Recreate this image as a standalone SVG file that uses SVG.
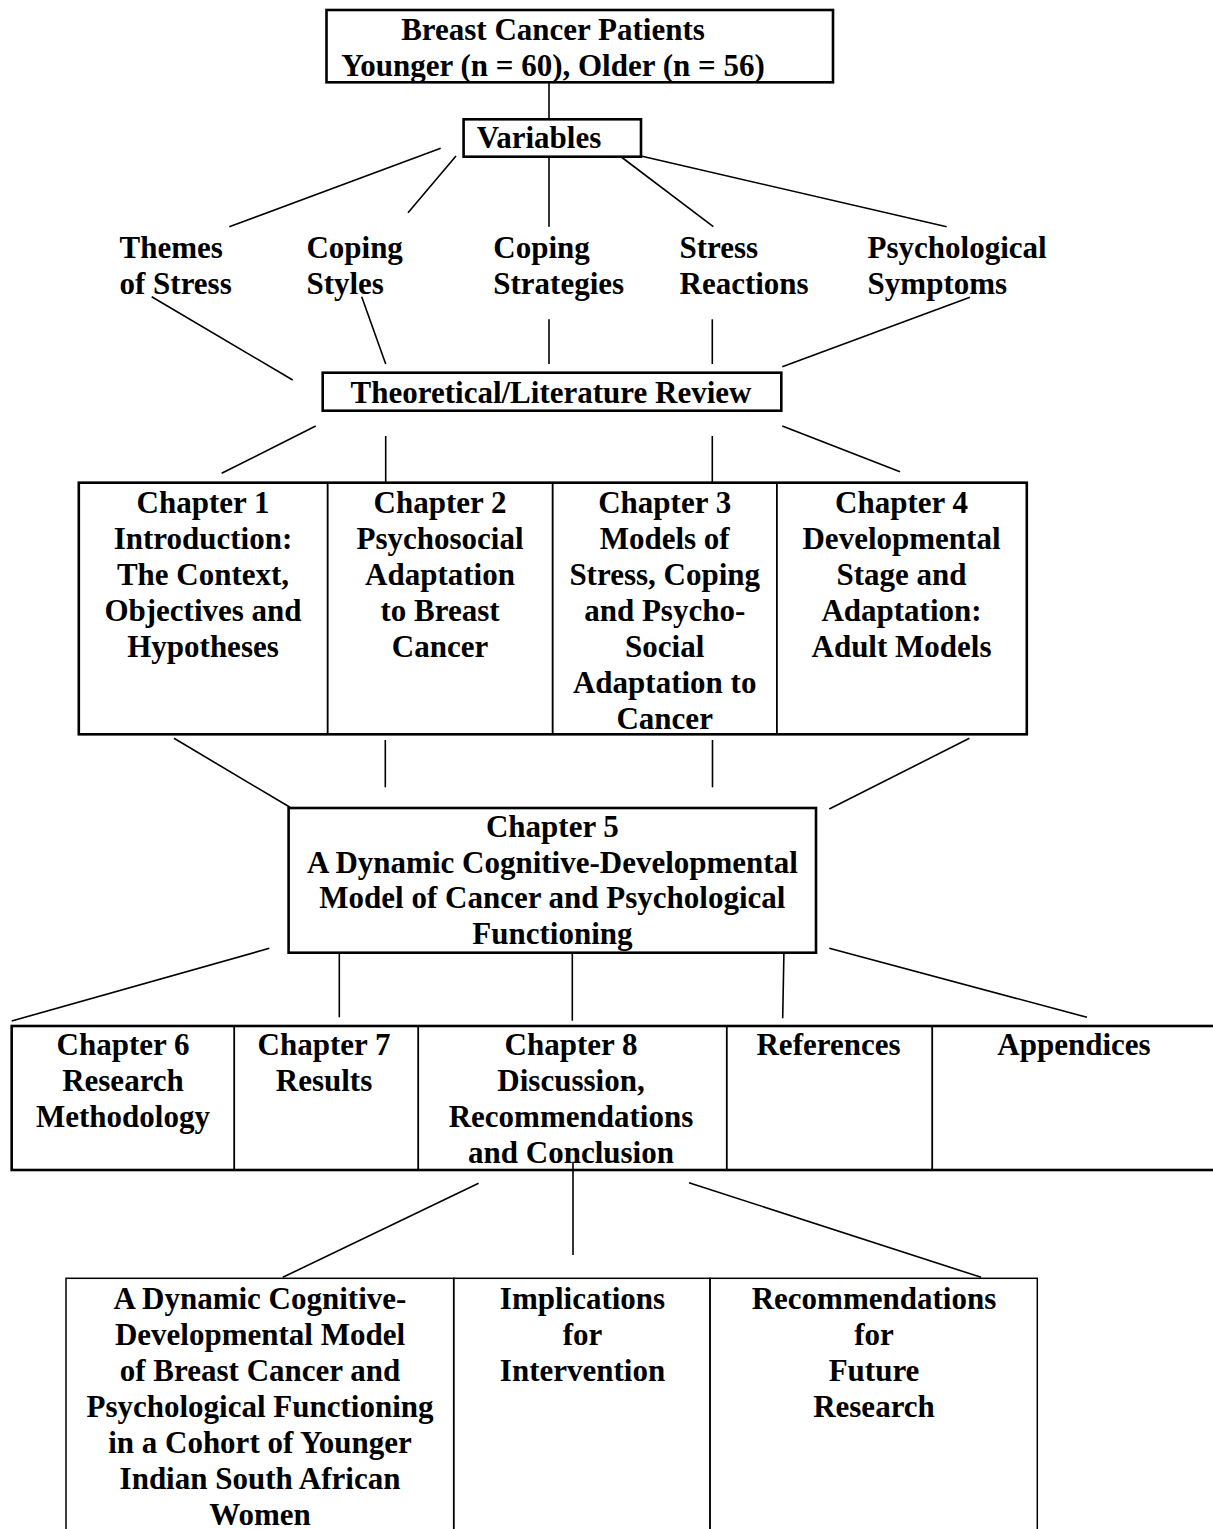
<svg xmlns="http://www.w3.org/2000/svg" width="1213" height="1529" viewBox="0 0 1213 1529">
  <style>
    text { font-family: "Liberation Serif", "Times New Roman", serif; font-weight: bold; font-size: 31px; fill: #000; }
    .c { text-anchor: middle; }
    .box { fill: #fff; stroke: #000; stroke-width: 2.6; }
    .cell { fill: none; stroke: #000; stroke-width: 1.5; }
    .frame { fill: none; stroke: #000; stroke-width: 2.6; }
    #connectors line { stroke: #000; stroke-width: 1.6; }
  </style>
  <rect width="1213" height="1529" fill="#fff"/>

  <!-- connectors -->
  <g id="connectors">
    <line x1="549" y1="82" x2="549" y2="119"/>
    <line x1="440.7" y1="148.3" x2="229.3" y2="226.7"/>
    <line x1="456" y1="156" x2="408" y2="212.7"/>
    <line x1="549" y1="156" x2="549" y2="226.7"/>
    <line x1="620" y1="156" x2="713.3" y2="226.7"/>
    <line x1="641" y1="156" x2="946.7" y2="226.7"/>
    <line x1="151.7" y1="296.7" x2="292.7" y2="380"/>
    <line x1="361.7" y1="296.7" x2="385.7" y2="364"/>
    <line x1="549" y1="319.3" x2="549" y2="364"/>
    <line x1="712.3" y1="319.3" x2="712.3" y2="364"/>
    <line x1="970" y1="297.3" x2="782.3" y2="366.7"/>
    <line x1="315.7" y1="426" x2="221.7" y2="473.3"/>
    <line x1="385.7" y1="436" x2="385.7" y2="482.7"/>
    <line x1="712.3" y1="436" x2="712.3" y2="482.7"/>
    <line x1="782.3" y1="426" x2="900" y2="471.7"/>
    <line x1="174" y1="738.3" x2="290" y2="807.3"/>
    <line x1="385.3" y1="740" x2="385.3" y2="787.3"/>
    <line x1="712.5" y1="740" x2="712.5" y2="787.3"/>
    <line x1="969.4" y1="738.3" x2="829.3" y2="809"/>
    <line x1="269.3" y1="948.3" x2="11.7" y2="1021"/>
    <line x1="339.3" y1="948.3" x2="339.3" y2="1017.3"/>
    <line x1="572.3" y1="950" x2="572.3" y2="1020.7"/>
    <line x1="784" y1="948.3" x2="782.7" y2="1018.3"/>
    <line x1="829.3" y1="948.3" x2="1087" y2="1017.3"/>
    <line x1="478.6" y1="1183.3" x2="282.8" y2="1277.3"/>
    <line x1="573" y1="1161.7" x2="573" y2="1255"/>
    <line x1="689" y1="1182.7" x2="981.1" y2="1277.3"/>
  </g>

  <!-- sample -->
  <g id="patients">
    <rect class="box" x="326.5" y="10" width="506.5" height="72.3" stroke-width="3"/>
    <text class="c" x="553" y="39.5">Breast Cancer Patients</text>
    <text class="c" x="553" y="75.5">Younger (n = 60), Older (n = 56)</text>
  </g>

  <g id="variables">
    <rect class="box" x="463.6" y="119.3" width="177.4" height="37.4" stroke-width="2"/>
    <text class="c" x="539" y="147.5">Variables</text>
  </g>

  <!-- study variables -->
  <g id="themes-of-stress">
    <text x="119.5" y="258">Themes</text>
    <text x="119.5" y="294">of Stress</text>
  </g>
  <g id="coping-styles">
    <text x="306.4" y="258">Coping</text>
    <text x="306.4" y="294">Styles</text>
  </g>
  <g id="coping-strategies">
    <text x="493.3" y="258">Coping</text>
    <text x="493.3" y="294">Strategies</text>
  </g>
  <g id="stress-reactions">
    <text x="679.5" y="258">Stress</text>
    <text x="679.5" y="294">Reactions</text>
  </g>
  <g id="psychological-symptoms">
    <text x="867.6" y="258">Psychological</text>
    <text x="867.6" y="294">Symptoms</text>
  </g>

  <g id="literature-review">
    <rect class="box" x="322.7" y="372.7" width="458.6" height="38"/>
    <text class="c" x="551" y="402.7">Theoretical/Literature Review</text>
  </g>

  <!-- chapters 1-4 -->
  <g id="chapter-1">
    <rect class="cell" x="78.8" y="482.7" width="248.8" height="251.6"/>
    <text class="c" x="203" y="512.5">Chapter 1</text>
    <text class="c" x="203" y="548.5">Introduction:</text>
    <text class="c" x="203" y="584.5">The Context,</text>
    <text class="c" x="203" y="620.5">Objectives and</text>
    <text class="c" x="203" y="656.5">Hypotheses</text>
  </g>
  <g id="chapter-2">
    <rect class="cell" x="327.6" y="482.7" width="225" height="251.6"/>
    <text class="c" x="440" y="512.5">Chapter 2</text>
    <text class="c" x="440" y="548.5">Psychosocial</text>
    <text class="c" x="440" y="584.5">Adaptation</text>
    <text class="c" x="440" y="620.5">to Breast</text>
    <text class="c" x="440" y="656.5">Cancer</text>
  </g>
  <g id="chapter-3">
    <rect class="cell" x="552.6" y="482.7" width="224.2" height="251.6"/>
    <text class="c" x="664.7" y="512.5">Chapter 3</text>
    <text class="c" x="664.7" y="548.5">Models of</text>
    <text class="c" x="664.7" y="584.5">Stress, Coping</text>
    <text class="c" x="664.7" y="620.5">and Psycho-</text>
    <text class="c" x="664.7" y="656.5">Social</text>
    <text class="c" x="664.7" y="692.5">Adaptation to</text>
    <text class="c" x="664.7" y="728.5">Cancer</text>
  </g>
  <g id="chapter-4">
    <rect class="cell" x="776.8" y="482.7" width="250" height="251.6"/>
    <text class="c" x="901.5" y="512.5">Chapter 4</text>
    <text class="c" x="901.5" y="548.5">Developmental</text>
    <text class="c" x="901.5" y="584.5">Stage and</text>
    <text class="c" x="901.5" y="620.5">Adaptation:</text>
    <text class="c" x="901.5" y="656.5">Adult Models</text>
  </g>
  <rect class="frame" x="78.8" y="482.7" width="948" height="251.6"/>

  <g id="chapter-5">
    <rect class="box" x="288.6" y="808" width="527.4" height="144.7"/>
    <text class="c" x="552.4" y="836.8">Chapter 5</text>
    <text class="c" x="552.4" y="872.6">A Dynamic Cognitive-Developmental</text>
    <text class="c" x="552.4" y="908.4">Model of Cancer and Psychological</text>
    <text class="c" x="552.4" y="944.2">Functioning</text>
  </g>

  <!-- chapters 6-8, references, appendices -->
  <g id="chapter-6">
    <rect class="cell" x="11.7" y="1026" width="222.6" height="144"/>
    <text class="c" x="123" y="1055">Chapter 6</text>
    <text class="c" x="123" y="1091">Research</text>
    <text class="c" x="123" y="1127">Methodology</text>
  </g>
  <g id="chapter-7">
    <rect class="cell" x="234.3" y="1026" width="184" height="144"/>
    <text class="c" x="324" y="1055">Chapter 7</text>
    <text class="c" x="324" y="1091">Results</text>
  </g>
  <g id="chapter-8">
    <rect class="cell" x="418.3" y="1026" width="308.4" height="144"/>
    <text class="c" x="571" y="1055">Chapter 8</text>
    <text class="c" x="571" y="1091">Discussion,</text>
    <text class="c" x="571" y="1127">Recommendations</text>
    <text class="c" x="571" y="1163">and Conclusion</text>
  </g>
  <g id="references">
    <rect class="cell" x="726.7" y="1026" width="205.6" height="144" stroke-width="1.2"/>
    <text class="c" x="828.5" y="1055">References</text>
  </g>
  <g id="appendices">
    <rect class="cell" x="932.3" y="1026" width="290" height="144" stroke-width="1"/>
    <text class="c" x="1074" y="1055">Appendices</text>
  </g>
  <rect class="frame" x="11.7" y="1026" width="1210" height="144"/>

  <!-- chapter 8 outcomes -->
  <g id="model-outcome">
    <rect class="cell" x="66" y="1278.3" width="387.7" height="270" stroke-width="2"/>
    <text class="c" x="260" y="1308.5">A Dynamic Cognitive-</text>
    <text class="c" x="260" y="1344.5">Developmental Model</text>
    <text class="c" x="260" y="1380.5">of Breast Cancer and</text>
    <text class="c" x="260" y="1416.5">Psychological Functioning</text>
    <text class="c" x="260" y="1452.5">in a Cohort of Younger</text>
    <text class="c" x="260" y="1488.5">Indian South African</text>
    <text class="c" x="260" y="1524.5">Women</text>
  </g>
  <g id="implications">
    <rect class="cell" x="453.7" y="1278.3" width="256.3" height="270" stroke-width="2"/>
    <text class="c" x="582.5" y="1308.5">Implications</text>
    <text class="c" x="582.5" y="1344.5">for</text>
    <text class="c" x="582.5" y="1380.5">Intervention</text>
  </g>
  <g id="future-research">
    <rect class="cell" x="710" y="1278.3" width="327.3" height="270" stroke-width="2"/>
    <text class="c" x="874" y="1308.5">Recommendations</text>
    <text class="c" x="874" y="1344.5">for</text>
    <text class="c" x="874" y="1380.5">Future</text>
    <text class="c" x="874" y="1416.5">Research</text>
  </g>
</svg>
